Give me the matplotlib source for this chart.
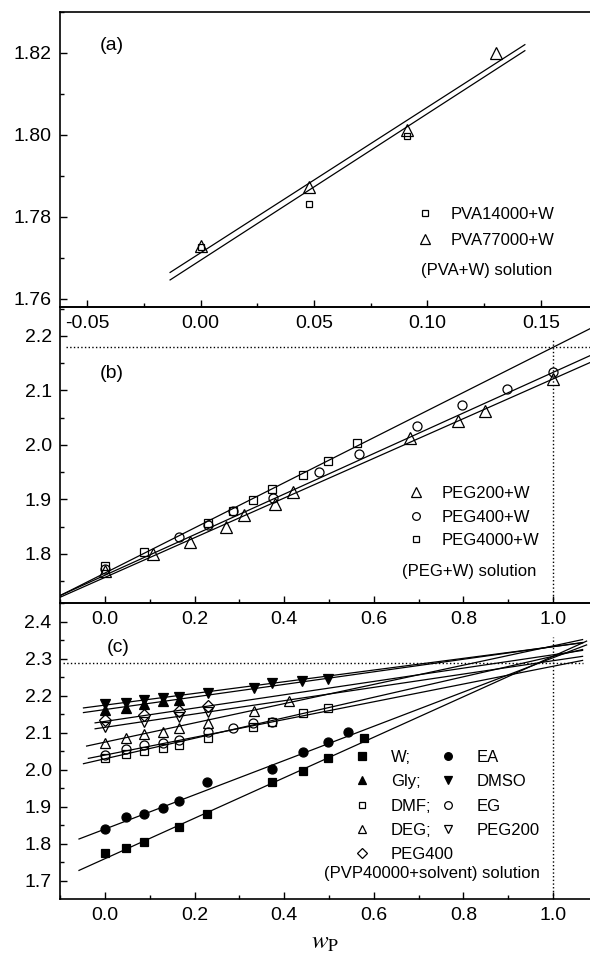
import matplotlib
matplotlib.use("Agg")
import matplotlib.pyplot as plt
from matplotlib.ticker import MultipleLocator, FormatStrFormatter
import numpy as np

plt.rcParams['font.family'] = ['Liberation Sans', 'DejaVu Sans']
plt.rcParams['mathtext.fontset'] = 'stix'
plt.rcParams['axes.unicode_minus'] = False

# ---- (a) PVA + W ----
pva14_w = [0.0, 0.048, 0.091]
pva14_y = [1.7727, 1.7831, 1.7998]
pva77_w = [0.0, 0.048, 0.091, 0.130]
pva77_y = [1.7728, 1.7873, 1.8012, 1.8200]
pva_fit_b = [1.7694, 1.7712]
pva_fit_k = [0.358, 0.3557]
pva_fit_x = [-0.0134, 0.1429]

# ---- (b) PEG + W ----
peg200_w = [0.0, 0.108, 0.19, 0.27, 0.31, 0.379, 0.419, 0.68, 0.789, 0.849, 1.0]
peg200_y = [1.769, 1.800, 1.821, 1.850, 1.872, 1.892, 1.913, 2.012, 2.043, 2.062, 2.121]
peg400_w = [0.0, 0.165, 0.23, 0.285, 0.375, 0.478, 0.568, 0.696, 0.797, 0.898, 1.0]
peg400_y = [1.772, 1.831, 1.853, 1.879, 1.902, 1.951, 1.983, 2.034, 2.073, 2.103, 2.133]
peg4000_w = [0.0, 0.087, 0.23, 0.285, 0.33, 0.373, 0.442, 0.497, 0.562]
peg4000_y = [1.777, 1.803, 1.856, 1.879, 1.899, 1.919, 1.945, 1.971, 2.004]
peg_fit_b = [1.757, 1.761, 1.765]
peg_fit_k = [0.364, 0.372, 0.414]
peg_fit_x = [-0.1, 1.083]
peg_extrap = 2.179

# ---- (c) PVP40000 + solvent ----
w_w = [0.0, 0.047, 0.087, 0.165, 0.228, 0.373, 0.442, 0.498, 0.579]
w_y = [1.775, 1.788, 1.806, 1.845, 1.880, 1.966, 1.998, 2.032, 2.087]
ea_w = [0.0, 0.047, 0.087, 0.129, 0.165, 0.228, 0.373, 0.442, 0.498, 0.543]
ea_y = [1.840, 1.872, 1.881, 1.898, 1.916, 1.967, 2.003, 2.048, 2.076, 2.102]
gly_w = [0.0, 0.047, 0.087, 0.129, 0.165]
gly_y = [2.163, 2.168, 2.178, 2.185, 2.188]
dmso_w = [0.0, 0.047, 0.087, 0.129, 0.165, 0.23, 0.333, 0.373, 0.44, 0.498]
dmso_y = [2.178, 2.181, 2.190, 2.195, 2.198, 2.207, 2.221, 2.234, 2.240, 2.246]
dmf_w = [0.0, 0.047, 0.087, 0.129, 0.165, 0.23, 0.33, 0.373, 0.442, 0.498]
dmf_y = [2.032, 2.043, 2.052, 2.060, 2.068, 2.086, 2.117, 2.130, 2.155, 2.168]
eg_w = [0.0, 0.047, 0.087, 0.129, 0.165, 0.23, 0.285, 0.33, 0.373]
eg_y = [2.040, 2.057, 2.066, 2.072, 2.081, 2.101, 2.114, 2.126, 2.130]
deg_w = [0.0, 0.047, 0.087, 0.129, 0.165, 0.23, 0.333, 0.411]
deg_y = [2.072, 2.087, 2.096, 2.103, 2.113, 2.128, 2.158, 2.185]
p200_w = [0.0, 0.087, 0.165, 0.23]
p200_y = [2.117, 2.129, 2.142, 2.156]
p400_w = [0.0, 0.087, 0.165, 0.23]
p400_y = [2.135, 2.149, 2.159, 2.173]
# fit lines: intercept, slope, start, end
pvp_fit = {
    'W': (1.760, 0.547, -0.058, 1.075),
    'EA': (1.840, 0.463, -0.058, 1.075),
    'Gly': (2.163, 0.170, -0.048, 1.066),
    'DMSO': (2.175, 0.158, -0.048, 1.066),
    'DMF': (2.030, 0.277, -0.048, 1.066),
    'EG': (2.040, 0.240, -0.037, 1.066),
    'DEG': (2.075, 0.260, -0.041, 1.066),
    'PEG200': (2.115, 0.180, -0.022, 1.066),
    'PEG400': (2.131, 0.180, -0.022, 1.066),
}
pvp_extrap = 2.29

fig = plt.figure(figsize=(5.9, 9.57), dpi=100)
ax_a = fig.add_axes([60/590, 1-307/957, 530/590, 295/957])
ax_b = fig.add_axes([60/590, 1-603/957, 530/590, 296/957])
ax_c = fig.add_axes([60/590, 1-899/957, 530/590, 296/957])

for ax in (ax_a, ax_b, ax_c):
    ax.patch.set_visible(False)
    ax.spines['right'].set_visible(False)
    for s in ('left', 'top', 'bottom'):
        ax.spines[s].set_linewidth(1.2)
    ax.tick_params(which='both', direction='in', top=False, right=False,
                   labelsize=14, width=1)
    ax.tick_params(which='major', length=5, pad=6)
    ax.tick_params(which='minor', length=3)

lw = 0.9
mew = 0.9

def fit_line(ax, b, k, x0, x1):
    xs = np.array([x0, x1])
    ax.plot(xs, b + k * xs, color='k', lw=lw)

# ---- panel a ----
for b, k in zip(pva_fit_b, pva_fit_k):
    fit_line(ax_a, b, k, pva_fit_x[0], pva_fit_x[1])
h14, = ax_a.plot(pva14_w, pva14_y, ls='none', marker='s', ms=5, mfc='none', mec='k', mew=mew)
h77, = ax_a.plot(pva77_w, pva77_y, ls='none', marker='^', ms=8, mfc='none', mec='k', mew=mew)
ax_a.set_xlim(-0.0619, 0.1716)
ax_a.set_ylim(1.758, 1.83)
ax_a.xaxis.set_major_locator(MultipleLocator(0.05))
ax_a.xaxis.set_minor_locator(MultipleLocator(0.025))
ax_a.yaxis.set_major_locator(MultipleLocator(0.02))
ax_a.yaxis.set_minor_locator(MultipleLocator(0.01))
ax_a.xaxis.set_major_formatter(FormatStrFormatter('%.2f'))
ax_a.yaxis.set_major_formatter(FormatStrFormatter('%.2f'))
ax_a.legend([h14, h77], ['PVA14000+W', 'PVA77000+W'], loc='upper left',
            bbox_to_anchor=(0.673, 0.338), frameon=False, fontsize=12,
            borderpad=0, borderaxespad=0, handlelength=1.0, handletextpad=1.06,
            labelspacing=0.63, markerscale=0.85)
ax_a.text(0.681, 0.125, '(PVA+W) solution', transform=ax_a.transAxes,
          fontsize=12, va='center', ha='left')
ax_a.text(0.098, 0.888, '(a)', transform=ax_a.transAxes, fontsize=14,
          va='center', ha='center')

# ---- panel b ----
for b, k in zip(peg_fit_b, peg_fit_k):
    fit_line(ax_b, b, k, peg_fit_x[0], peg_fit_x[1])
ax_b.plot([-0.088, 1.083], [peg_extrap, peg_extrap], color='k', ls=':', lw=1)
ax_b.plot([1.0, 1.0], [1.71, 2.196], color='k', ls=':', lw=1)
g200, = ax_b.plot(peg200_w, peg200_y, ls='none', marker='^', ms=8, mfc='none', mec='k', mew=mew)
g400, = ax_b.plot(peg400_w, peg400_y, ls='none', marker='o', ms=6.5, mfc='none', mec='k', mew=mew)
g4000, = ax_b.plot(peg4000_w, peg4000_y, ls='none', marker='s', ms=5.5, mfc='none', mec='k', mew=mew)
ax_b.set_xlim(-0.1004, 1.0826)
ax_b.set_ylim(1.71, 2.253)
ax_b.xaxis.set_major_locator(MultipleLocator(0.2))
ax_b.xaxis.set_minor_locator(MultipleLocator(0.1))
ax_b.yaxis.set_major_locator(MultipleLocator(0.1))
ax_b.yaxis.set_minor_locator(MultipleLocator(0.05))
ax_b.xaxis.set_major_formatter(FormatStrFormatter('%.1f'))
ax_b.yaxis.set_major_formatter(FormatStrFormatter('%.1f'))
ax_b.legend([g200, g400, g4000], ['PEG200+W', 'PEG400+W', 'PEG4000+W'],
            loc='upper left', bbox_to_anchor=(0.656, 0.395), frameon=False,
            fontsize=12, borderpad=0, borderaxespad=0, handlelength=1.0,
            handletextpad=1.06, labelspacing=0.51, markerscale=0.85)
ax_b.text(0.645, 0.106, '(PEG+W) solution', transform=ax_b.transAxes,
          fontsize=12, va='center', ha='left')
ax_b.text(0.098, 0.777, '(b)', transform=ax_b.transAxes, fontsize=14,
          va='center', ha='center')

# ---- panel c ----
for name, (b, k, x0, x1) in pvp_fit.items():
    fit_line(ax_c, b, k, x0, x1)
ax_c.plot([-0.094, 1.067], [pvp_extrap, pvp_extrap], color='k', ls=':', lw=1)
ax_c.plot([1.0, 1.0], [1.651, 2.359], color='k', ls=':', lw=1)

def pts(ax, xs, ys, m, filled, ms):
    fc = 'k' if filled else 'none'
    h, = ax.plot(xs, ys, ls='none', marker=m, ms=ms, mfc=fc, mec='k', mew=mew)
    return h

hW = pts(ax_c, w_w, w_y, 's', True, 6)
hEA = pts(ax_c, ea_w, ea_y, 'o', True, 6.5)
hGly = pts(ax_c, gly_w, gly_y, '^', True, 7.5)
hDMSO = pts(ax_c, dmso_w, dmso_y, 'v', True, 7.5)
hDMF = pts(ax_c, dmf_w, dmf_y, 's', False, 5.5)
hEG = pts(ax_c, eg_w, eg_y, 'o', False, 6.5)
hDEG = pts(ax_c, deg_w, deg_y, '^', False, 7.5)
hP200 = pts(ax_c, p200_w, p200_y, 'v', False, 7.5)
hP400 = pts(ax_c, p400_w, p400_y, 'D', False, 6)

ax_c.set_xlim(-0.1004, 1.0826)
ax_c.set_ylim(1.651, 2.451)
ax_c.xaxis.set_major_locator(MultipleLocator(0.2))
ax_c.xaxis.set_minor_locator(MultipleLocator(0.1))
ax_c.yaxis.set_major_locator(MultipleLocator(0.1))
ax_c.yaxis.set_minor_locator(MultipleLocator(0.05))
ax_c.xaxis.set_major_formatter(FormatStrFormatter('%.1f'))
ax_c.yaxis.set_major_formatter(FormatStrFormatter('%.1f'))

leg1 = ax_c.legend([hW, hGly, hDMF, hDEG, hEA, hDMSO, hEG, hP200],
                   ['W;', 'Gly;', 'DMF;', 'DEG;', 'EA', 'DMSO', 'EG', 'PEG200'],
                   ncol=2, loc='upper left', bbox_to_anchor=(0.555, 0.5045),
                   frameon=False, fontsize=12, borderpad=0, borderaxespad=0,
                   handlelength=1.0, handletextpad=1.2, labelspacing=0.57,
                   columnspacing=0.5, markerscale=0.85)
ax_c.add_artist(leg1)
ax_c.legend([hP400], ['PEG400'], loc='upper left', bbox_to_anchor=(0.555, 0.177),
            frameon=False, fontsize=12, borderpad=0, borderaxespad=0,
            handlelength=1.0, handletextpad=1.2, markerscale=0.85)
ax_c.text(0.498, 0.087, '(PVP40000+solvent) solution', transform=ax_c.transAxes,
          fontsize=12, va='center', ha='left')
ax_c.text(0.109, 0.851, '(c)', transform=ax_c.transAxes, fontsize=14,
          va='center', ha='center')
ax_c.set_xlabel(r'$w_{\rm P}$', fontsize=18, labelpad=4)

fig.savefig('out.png', dpi=100, facecolor='white')
